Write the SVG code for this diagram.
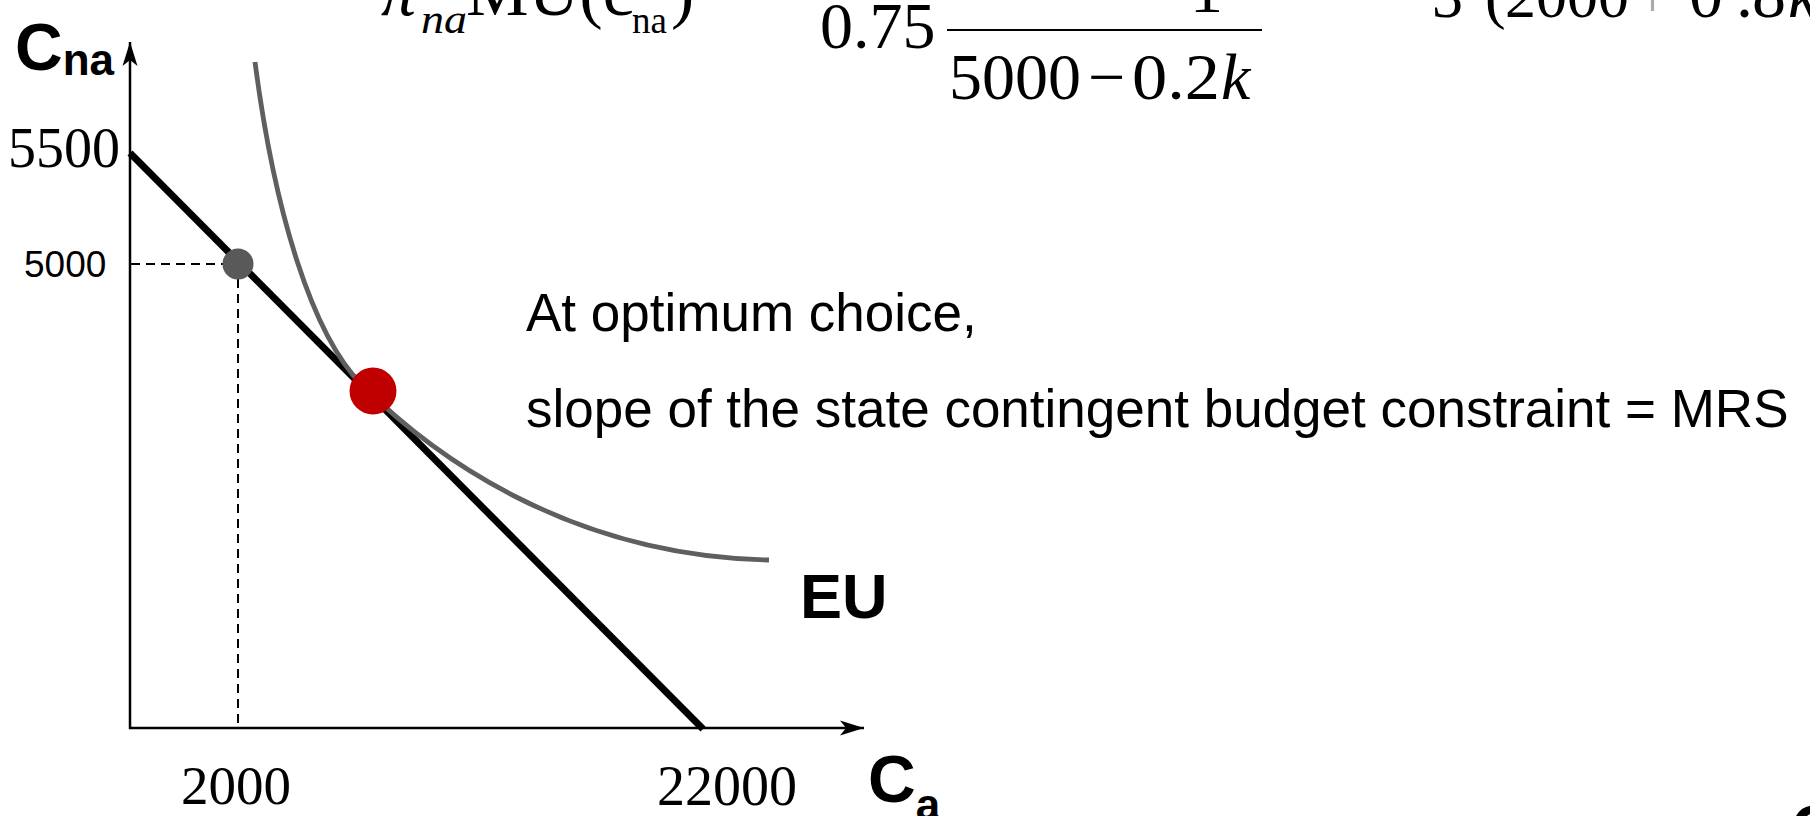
<svg xmlns="http://www.w3.org/2000/svg" width="1810" height="816" viewBox="0 0 1810 816">
<style>
.serif{font-family:"Liberation Serif","Times New Roman",serif;fill:#000}
.sans{font-family:"Liberation Sans",Arial,sans-serif;fill:#000}
.bold{font-weight:bold}
.it{font-style:italic}
.axis{stroke:#000;stroke-width:2.5;fill:none}
.dash{stroke:#000;stroke-width:2;stroke-dasharray:9 6;fill:none}
</style>
<defs>
<marker id="arr" viewBox="0 0 26 16" markerWidth="26" markerHeight="16" refX="24" refY="8" orient="auto" markerUnits="userSpaceOnUse">
<path d="M0,0.5 L24,8 L0,15.5 L6,8 Z" fill="#000"/>
</marker>
</defs>
<rect width="1810" height="816" fill="#fff"/>

<g id="formulas">
<text class="serif it" x="381" y="15" font-size="70">π</text>
<text class="serif it" x="421" y="33" font-size="42" textLength="46" lengthAdjust="spacingAndGlyphs">na</text>
<text class="serif" x="466" y="15" font-size="70" textLength="168" lengthAdjust="spacingAndGlyphs">MU(c</text>
<text class="serif" x="632" y="33" font-size="37">na</text>
<text class="serif" x="671" y="15" font-size="70">)</text>

<text class="serif" x="820" y="48" font-size="66">0.75</text>
<line x1="947" y1="30" x2="1262" y2="30" stroke="#000" stroke-width="2"/>
<text class="serif" x="1190" y="12" font-size="66">1</text>
<text class="serif" y="99" font-size="66"><tspan x="949">5000</tspan><tspan x="1088">−</tspan><tspan x="1132" textLength="88" lengthAdjust="spacingAndGlyphs">0.2</tspan><tspan x="1221" class="it">k</tspan></text>

<text class="serif" y="17" font-size="62"><tspan x="1432">3</tspan><tspan x="1485">(</tspan><tspan x="1505">2000</tspan><tspan x="1635" fill="#aaa">+</tspan></text>
<text class="serif" y="17" font-size="68"><tspan x="1689">0</tspan><tspan x="1736">.</tspan><tspan x="1752">8</tspan><tspan x="1788" class="it">k</tspan></text>
</g>

<g id="connectors">
<line class="axis" x1="130" y1="729" x2="130" y2="42" marker-end="url(#arr)"/>
<line class="axis" x1="129" y1="728" x2="864" y2="728" marker-end="url(#arr)"/>
<line class="dash" x1="131" y1="264" x2="238" y2="264"/>
<line class="dash" x1="238" y1="264" x2="238" y2="726"/>
</g>

<g id="budget-line">
<line x1="130" y1="153" x2="703" y2="729" stroke="#000" stroke-width="7"/>
</g>

<g id="eu-curve">
<path d="M255,62 C274.5,212 312,335 362,385 C432,455 569,556 769,560" fill="none" stroke="#5f5f5f" stroke-width="4.8"/>
</g>

<g id="point-endowment">
<circle cx="238" cy="264" r="15.5" fill="#595959"/>
</g>
<g id="point-optimum">
<circle cx="373" cy="391" r="23.5" fill="#c00000"/>
</g>

<g id="axis-labels">
<text class="sans bold" x="15" y="70" font-size="66">C<tspan font-size="44" dy="5">na</tspan></text>
<text class="serif" x="8" y="167" font-size="56">5500</text>
<text class="sans" x="24" y="277" font-size="37">5000</text>
<text class="serif" x="236" y="804" font-size="55" text-anchor="middle">2000</text>
<text class="serif" x="727" y="805" font-size="56" text-anchor="middle">22000</text>
<text class="sans bold" x="868" y="802" font-size="66">C<tspan font-size="44" dy="18">a</tspan></text>
<text class="sans bold" x="1791" y="851" font-size="64">C</text>
</g>

<g id="eu-label">
<text class="sans bold" x="800" y="618" font-size="63">EU</text>
</g>

<g id="annotation">
<text class="sans" x="526" y="331" font-size="53">At optimum choice,</text>
<text class="sans" x="526" y="427" font-size="53">slope of the state contingent budget constraint = MRS</text>
</g>
</svg>
